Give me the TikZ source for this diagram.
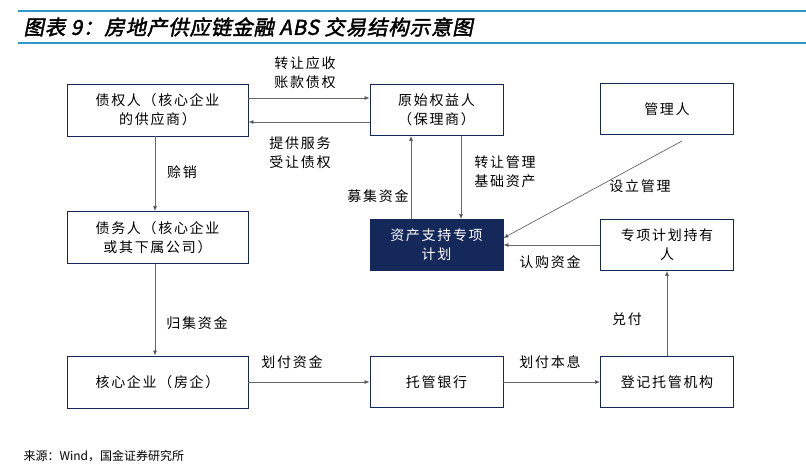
\documentclass[tikz,border=0pt]{standalone}
\usepackage{fontspec}
\setmainfont{Liberation Sans}
\newfontfamily\cjk[LetterSpace=12]{Noto Sans CJK SC}
\newfontfamily\cjks{Noto Sans CJK SC}
\newfontfamily\cjkit[FakeSlant=0.2,FakeBold=2,LetterSpace=4]{Noto Sans CJK SC}
\usetikzlibrary{arrows.meta}
\definecolor{navy}{HTML}{14285A}
\definecolor{tblue}{HTML}{2E9AC8}
\begin{document}
\begin{tikzpicture}[x=1pt,y=-1pt,
 box/.style={draw=navy,line width=0.8pt,minimum width=181pt,minimum height=52pt,align=center,font=\cjk\fontsize{14}{19}\selectfont,text=black},
 sbox/.style={box,minimum width=133pt,minimum height=51pt},
 arr/.style={draw=gray!80!black,line width=0.7pt,-{Latex[length=5pt,width=4pt,fill=navy]}},
 lab/.style={font=\cjk\fontsize{14}{19}\selectfont,align=center}]
\useasboundingbox (0,0) rectangle (806,474);
\fill[white] (0,0) rectangle (806,474);
\draw[tblue,line width=1.2pt] (18,11) -- (806,11) coordinate(t1);
\draw[tblue,line width=1.2pt] (18,43) -- (806,43) coordinate(t2);
\node[anchor=west,font=\cjkit\fontsize{20.5}{22}\selectfont] (title) at (20,27) {图表 9：房地产供应链金融 ABS 交易结构示意图};
\node[box] (zq) at (157.5,110) {债权人（核心企业\\的供应商）};
\node[sbox] (ys) at (436.5,110) {原始权益人\\（保理商）};
\node[sbox] (gl) at (667,109) {管理人};
\node[box] (zw) at (157.5,237.5) {债务人（核心企业\\或其下属公司）};
\node[sbox,fill=navy,text=white] (zx) at (436.5,245) {资产支持专项\\计划};
\node[sbox] (cy) at (667,245) {专项计划持有\\人};
\node[box] (hx) at (157.5,382) {核心企业（房企）};
\node[sbox] (tg) at (436.5,382) {托管银行};
\node[sbox] (dj) at (667,382) {登记托管机构};
\draw[arr] (zq.east|-0,98) -- (ys.west|-0,98);
\draw[arr] (ys.west|-0,122) -- (zq.east|-0,122);
\draw[arr] (zq.south-|155,0) -- (zw.north-|155,0);
\draw[arr] (zw.south-|155,0) -- (hx.north-|155,0);
\draw[arr] (hx) -- (tg);
\draw[arr] (tg) -- (dj);
\draw[arr] (dj) -- (cy);
\draw[arr] (cy) -- (zx);
\draw[arr] (zx.north-|411,0) -- (ys.south-|411,0);
\draw[arr] (ys.south-|461,0) -- (zx.north-|461,0);
\coordinate (gls) at (682,141);
\draw[arr] (gls) -- (zx.east|-0,238);
\node[lab] at (305,73) {转让应收\\账款债权};
\node[lab] at (300,153) {提供服务\\受让债权};
\node[lab] at (182,172) {赊销};
\node[lab] at (197,323) {归集资金};
\node[lab] at (292,362) {划付资金};
\node[lab] at (550,362) {划付本息};
\node[lab] at (627,319) {兑付};
\node[lab] at (550,262) {认购资金};
\node[lab] at (640,186) {设立管理};
\node[lab] at (378,196) {募集资金};
\node[lab] at (505,172) {转让管理\\基础资产};
\node[anchor=west,font=\cjks\fontsize{12}{14}\selectfont] (src) at (20,456) {来源：Wind，国金证券研究所};
\end{tikzpicture}
\end{document}
